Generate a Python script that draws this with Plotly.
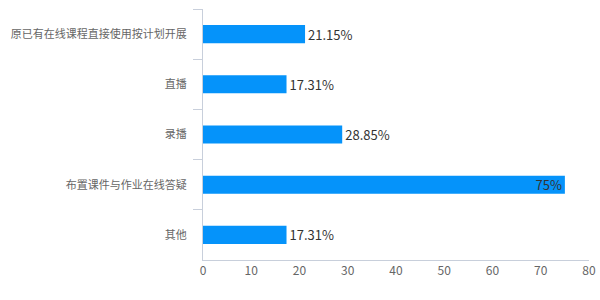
import plotly.graph_objects as go

categories = ["原已有在线课程直接使用按计划开展", "直播", "录播", "布置课件与作业在线答疑", "其他"]
values = [21.15, 17.31, 28.85, 75, 17.31]
labels = ["21.15%", "17.31%", "28.85%", "75%", "17.31%"]
positions = ["outside", "outside", "outside", "inside", "outside"]

font = "Noto Sans CJK SC, Microsoft YaHei, sans-serif"
axis_color = "#c8cfdb"

fig = go.Figure(go.Bar(
    x=values, y=categories, orientation="h",
    marker=dict(color="#0593FA", line=dict(width=0)),
    width=0.36,
    text=labels, textposition=positions,
    insidetextanchor="end",
    textfont=dict(family=font, size=13, color="#333333"),
    insidetextfont=dict(family=font, size=13, color="#333333"),
    outsidetextfont=dict(family=font, size=13, color="#333333"),
    cliponaxis=False,
    constraintext="none",
    hoverinfo="skip",
))

fig.update_layout(
    width=600, height=300,
    margin=dict(l=203, r=11, t=9, b=40, autoexpand=False),
    plot_bgcolor="white", paper_bgcolor="white",
    showlegend=False,
    font=dict(family=font, size=12, color="#666666"),
)
fig.update_xaxes(
    range=[0, 80], dtick=10, showgrid=False, zeroline=False,
    showline=True, linecolor=axis_color, linewidth=1,
    ticks="", tickfont=dict(size=12, color="#666666"),
    automargin=False,
)
fig.update_yaxes(
    autorange="reversed", showgrid=False, zeroline=False,
    showline=True, linecolor=axis_color, linewidth=1,
    ticks="outside", ticklen=9, tickcolor=axis_color, tickson="boundaries",
    ticklabelstandoff=13,
    tickfont=dict(size=11, color="#666666"),
    automargin=False,
)

fig.write_html("out.html")
